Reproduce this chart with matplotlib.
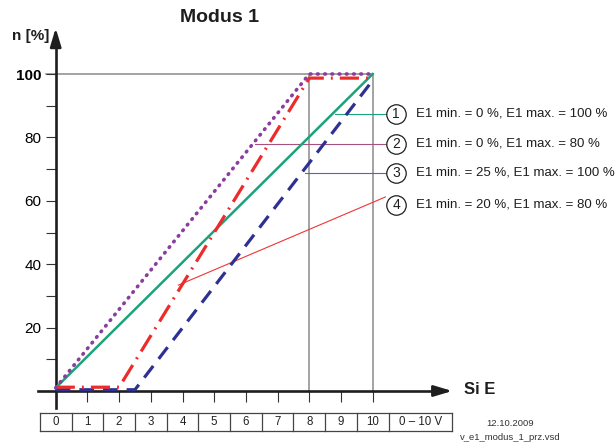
import matplotlib
matplotlib.use("Agg")
import matplotlib.pyplot as plt

plt.rcParams['font.family'] = ['Liberation Sans', 'DejaVu Sans']

# ---- data ----
x_green = [0, 10]
y_green = [1, 100]
x_purple = [0, 8, 10]
y_purple = [1, 100, 100]
x_red = [0, 2, 8, 10]
y_red = [1.2, 1.2, 98.7, 98.7]
x_blue = [0, 2.5, 10]
y_blue = [0.4, 0.4, 98]

y_major = [20, 40, 60, 80, 100]
y_minor = [10, 30, 50, 70, 90]
x_ticks = list(range(0, 11))
table_labels = [str(i) for i in range(11)] + ['0 \u2013 10 V']

legend_nums = ['1', '2', '3', '4']
legend_texts = ['E1 min. = 0 %, E1 max. = 100 %',
                'E1 min. = 0 %, E1 max. = 80 %',
                'E1 min. = 25 %, E1 max. = 100 %',
                'E1 min. = 20 %, E1 max. = 80 %']
legend_y = [87.5, 78.0, 68.8, 58.7]
# where each leader line starts on its curve
leader_start = [(8.8, 87.5), (6.3, 78.0), (7.85, 68.8), (3.87, 33.4)]
leader_end = [(10.42, 87.5), (10.42, 78.0), (10.42, 68.8), (10.4, 61.2)]

GREEN = '#1ba37b'
PURPLE = '#8a3d9f'
RED = '#ee2b2b'
BLUE = '#2e3192'
GRAY = '#8a8a8a'
DARK = '#1e1e1e'
leader_colors = [GREEN, '#a5527f', '#5a64b4', '#ef3535']

# ---- layout (pixels in a 616x443 image) ----
W, H = 616, 443
x0_px, x_unit = 55.7, 31.7     # pixel of x=0, pixels per unit
y0_px, y_unit = 391.0, 3.17    # pixel (from top) of y=0, pixels per %
xlim = (-0.56, 12.51)
ylim = (-5.27, 114.5)

fig = plt.figure(figsize=(W / 100, H / 100), dpi=100)
left = (x0_px + xlim[0] * x_unit) / W
right = (x0_px + xlim[1] * x_unit) / W
bottom = 1 - (y0_px - ylim[0] * y_unit) / H
top = 1 - (y0_px - ylim[1] * y_unit) / H
ax = fig.add_axes([left, bottom, right - left, top - bottom])
ax.set_xlim(*xlim)
ax.set_ylim(*ylim)
ax.patch.set_alpha(0)

# axes lines with arrows
for s in ['top', 'right']:
    ax.spines[s].set_visible(False)
ax.spines['left'].set_position(('data', 0))
ax.spines['bottom'].set_position(('data', 0))
ax.spines['left'].set_bounds(ylim[0], 110)
ax.spines['bottom'].set_bounds(xlim[0], 12.1)
for s in ['left', 'bottom']:
    ax.spines[s].set_linewidth(1.9)
    ax.spines[s].set_color(DARK)
ax.annotate('', xy=(0, ylim[1]), xytext=(0, 109),
            arrowprops=dict(arrowstyle='-|>,head_length=1.1,head_width=0.33',
                            mutation_scale=10, color=DARK, lw=1.9,
                            shrinkA=0, shrinkB=0), annotation_clip=False)
ax.annotate('', xy=(xlim[1], 0), xytext=(11.9, 0),
            arrowprops=dict(arrowstyle='-|>,head_length=1.1,head_width=0.33',
                            mutation_scale=10, color=DARK, lw=1.9,
                            shrinkA=0, shrinkB=0), annotation_clip=False)

# ticks
ax.set_yticks(y_major)
ax.set_yticklabels([str(v) for v in y_major])
ax.set_yticks(y_minor, minor=True)
ax.tick_params(axis='y', which='both', direction='out', length=7.2, width=0.8,
               color='#333333', labelsize=11, pad=3)
ax.get_yticklabels()[-1].set_fontweight('bold')
ax.set_xticks(x_ticks)
ax.set_xticklabels([])
ax.tick_params(axis='x', direction='out', length=8, width=0.8, color='#333333')

# gray reference lines
ax.plot([-0.3, 10], [100, 100], color=GRAY, lw=1.1, zorder=1)
ax.plot([8, 8], [0, 100], color=GRAY, lw=1.1, zorder=1)
ax.plot([10, 10], [0, 100], color=GRAY, lw=1.1, zorder=1)

# curves
ax.plot(x_green, y_green, color=GREEN, lw=1.8, zorder=3)
ax.plot(x_blue, y_blue, color=BLUE, lw=2.3, dashes=(4.6, 2.8), zorder=4)
ax.plot(x_red, y_red, color=RED, lw=2.3, dashes=(6.0, 2.2, 0.6, 2.2), zorder=5)
ax.plot(x_purple, y_purple, color=PURPLE, lw=2.6, dashes=(0.2, 1.8),
        dash_capstyle='round', zorder=6)

# legend circles with leader lines
for (sx, sy), (ex, ey), c in zip(leader_start, leader_end, leader_colors):
    ax.plot([sx, ex], [sy, ey], color=c, lw=0.8, zorder=2)
circle_x = 10.74
ax.plot([circle_x] * 4, legend_y, 'o', ms=14, mfc='white', mec=DARK, mew=0.9,
        zorder=7, clip_on=False)
for num, txt, yy in zip(legend_nums, legend_texts, legend_y):
    ax.text(circle_x, yy, num, ha='center', va='center', fontsize=10,
            color=DARK, zorder=8)
    ax.text(11.37, yy, txt, ha='left', va='center', fontsize=9.5, color=DARK)

# table of voltages below the x axis
t_top, t_bot = -7.03, -12.52
edges = [i - 0.5 for i in range(12)] + [12.5]
ax.plot([edges[0], edges[-1]], [t_top, t_top], color='#444444', lw=0.9, clip_on=False)
ax.plot([edges[0], edges[-1]], [t_bot, t_bot], color='#444444', lw=0.9, clip_on=False)
for e in edges:
    ax.plot([e, e], [t_top, t_bot], color='#444444', lw=0.9, clip_on=False)
for lab, a, b in zip(table_labels, edges[:-1], edges[1:]):
    ax.text((a + b) / 2, (t_top + t_bot) / 2, lab, ha='center', va='center',
            fontsize=8.3, color='#222222')

# labels
fig.text(219 / W, 1 - 17 / H, 'Modus 1', ha='center', va='center',
         fontsize=14, fontweight='bold', color=DARK)
fig.text(31 / W, 1 - 36 / H, 'n [%]', ha='center', va='center',
         fontsize=11, fontweight='bold', color=DARK)
fig.text(464 / W, 1 - 389 / H, 'Si E', ha='left', va='center',
         fontsize=12, fontweight='bold', color=DARK)
fig.text(510 / W, 1 - 424 / H, '12.10.2009', ha='center', va='center',
         fontsize=6.8, color='#333333')
fig.text(510 / W, 1 - 437 / H, 'v_e1_modus_1_prz.vsd', ha='center', va='center',
         fontsize=6.8, color='#333333')

fig.savefig('out.png', dpi=100)
